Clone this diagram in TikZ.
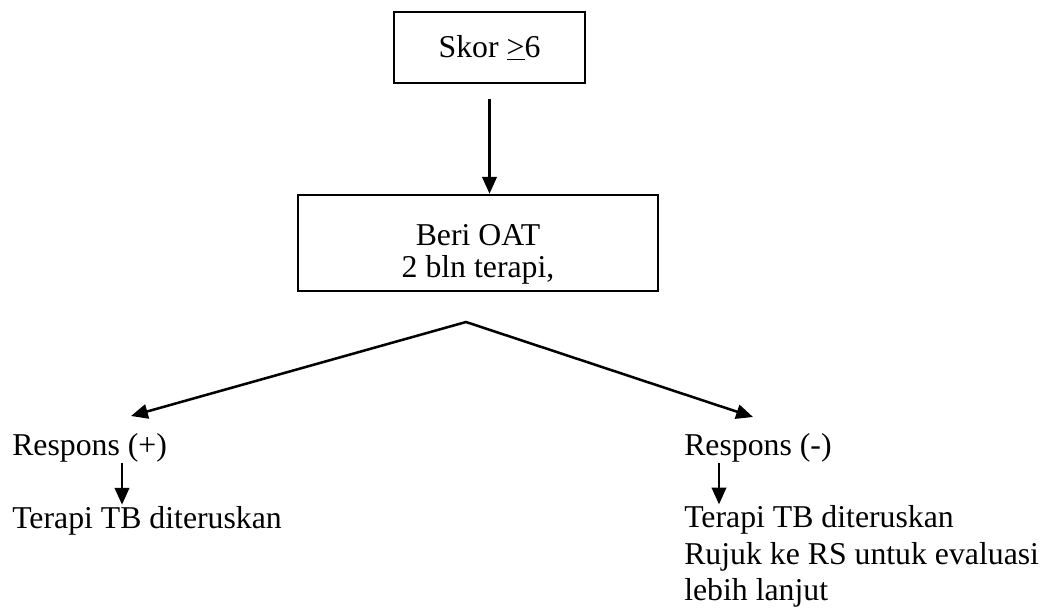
\documentclass[tikz,border=0pt]{standalone}
\usepackage{fontspec}
\setmainfont{Liberation Serif}
\usetikzlibrary{arrows.meta}

\begin{document}
\begin{tikzpicture}[>={Triangle[length=0.42cm,width=0.36cm]},
  line width=1.8pt, font=\fontsize{22.6}{22.76}\selectfont,
  box/.style={draw,inner sep=0pt},
  txt/.style={inner sep=0pt,anchor=base west}]
\useasboundingbox (0cm,0cm) rectangle (26.1cm,-15.2cm);
\node[box,minimum width=4.775cm,minimum height=1.775cm] (skor) at (12.2375cm,-1.1875cm) {Skor \underline{>}6};
\node[box,minimum width=9cm,minimum height=2.4cm,text height=0.85cm,text depth=0.75cm] (oat) at (11.95cm,-6.075cm) {\begin{tabular}[t]{@{}c@{}}Beri OAT\\2 bln terapi,\end{tabular}};
\draw[->] ([yshift=-0.375cm]skor.south) -- (oat.north -| skor.south);
\coordinate (fork) at (11.65cm,-8.05cm);
\coordinate (tipL) at (3.275cm,-10.4cm);
\coordinate (tipR) at (18.825cm,-10.425cm);
\draw[<->,line join=miter] (tipL) -- (fork) -- (tipR);
\node[txt] (posL) at (0.275cm,-11.375cm) {Respons (+)};
\node[txt] (terL) at (0.275cm,-13.2cm) {Terapi TB diteruskan};
\draw[->] (posL.south -| 3.05cm,0cm) -- (terL.north -| 3.05cm,0cm);
\node[txt] (negR) at (17.075cm,-11.375cm) {Respons (-)};
\node[inner sep=0pt,anchor=north west,align=left,font=\fontsize{22.6}{26}\selectfont] (terR) at (17.075cm,-12.61cm) {Terapi TB diteruskan\\Rujuk ke RS untuk evaluasi\\lebih lanjut};
\draw[->] (negR.south -| 17.975cm,0cm) -- (terR.north -| 17.975cm,0cm);
\end{tikzpicture}
\end{document}
